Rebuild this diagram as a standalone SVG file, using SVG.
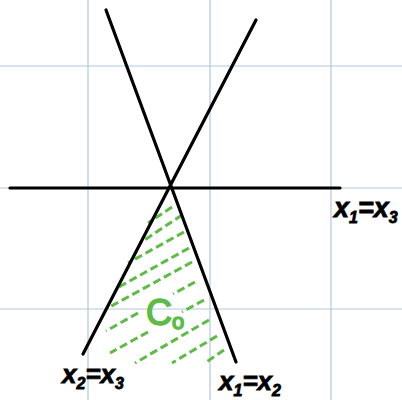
<svg xmlns="http://www.w3.org/2000/svg" width="402" height="400" viewBox="0 0 402 400">
<style>
.grid{stroke:#b4c6e0;stroke-width:1.2;fill:none}
.ln{stroke:#000;stroke-width:3.2;stroke-linecap:round;fill:none}
.hatch{stroke:#5dbb46;stroke-width:3;stroke-dasharray:8 4;fill:none}
.lbl{font-family:"Liberation Sans",Arial,sans-serif;font-weight:bold;font-style:italic;fill:#000;stroke:#000;stroke-width:0.8}
.c0{font-family:"Liberation Sans",Arial,sans-serif;fill:#5dbb46;stroke:#5dbb46;stroke-width:1.6}
</style>
<rect width="402" height="400" fill="#fff"/>
<g id="grid">
<line class="grid" x1="88" y1="0" x2="88" y2="400"/>
<line class="grid" x1="210" y1="0" x2="210" y2="400"/>
<line class="grid" x1="331" y1="0" x2="331" y2="400"/>
<line class="grid" x1="0" y1="66" x2="402" y2="66"/>
<line class="grid" x1="0" y1="188" x2="402" y2="188"/>
<line class="grid" x1="0" y1="309" x2="402" y2="309"/>
</g>
<g id="hatching">
<line class="hatch" x1="172" y1="207" x2="148" y2="223"/>
<line class="hatch" x1="182" y1="215" x2="140" y2="243"/>
<line class="hatch" x1="184" y1="232" x2="128" y2="263"/>
<line class="hatch" x1="189" y1="248" x2="117" y2="288"/>
<line class="hatch" x1="192" y1="262" x2="106" y2="309"/>
<line class="hatch" x1="195" y1="282" x2="173" y2="294"/>
<line class="hatch" x1="138" y1="313" x2="106" y2="331"/>
<line class="hatch" x1="204" y1="300" x2="182" y2="312"/>
<line class="hatch" x1="148" y1="332" x2="110" y2="353"/>
<line class="hatch" x1="209" y1="320" x2="135" y2="363"/>
<line class="hatch" x1="217" y1="336" x2="172" y2="363"/>
<line class="hatch" x1="224" y1="350" x2="205" y2="363"/>
</g>
<g id="connectors">
<line class="ln" x1="10" y1="188" x2="340" y2="188"/>
<line class="ln" x1="106" y1="10" x2="236" y2="362"/>
<line class="ln" x1="256" y1="20" x2="83" y2="354"/>
</g>
<g id="label-x1x3">
<text class="lbl" x="334" y="217" font-size="27">x<tspan font-size="16" dy="6">1</tspan><tspan dy="-6">=x</tspan><tspan font-size="16" dy="6">3</tspan></text>
</g>
<g id="label-x2x3">
<text class="lbl" x="62" y="383" font-size="26">x<tspan font-size="16" dy="6">2</tspan><tspan dy="-6">=x</tspan><tspan font-size="16" dy="6">3</tspan></text>
</g>
<g id="label-x1x2">
<text class="lbl" x="219" y="390" font-size="26">x<tspan font-size="16" dy="6">1</tspan><tspan dy="-6">=x</tspan><tspan font-size="16" dy="6">2</tspan></text>
</g>
<g id="label-C0">
<text class="c0" x="146" y="325" font-size="36">C<tspan font-size="22" dy="4">o</tspan></text>
</g>
</svg>
